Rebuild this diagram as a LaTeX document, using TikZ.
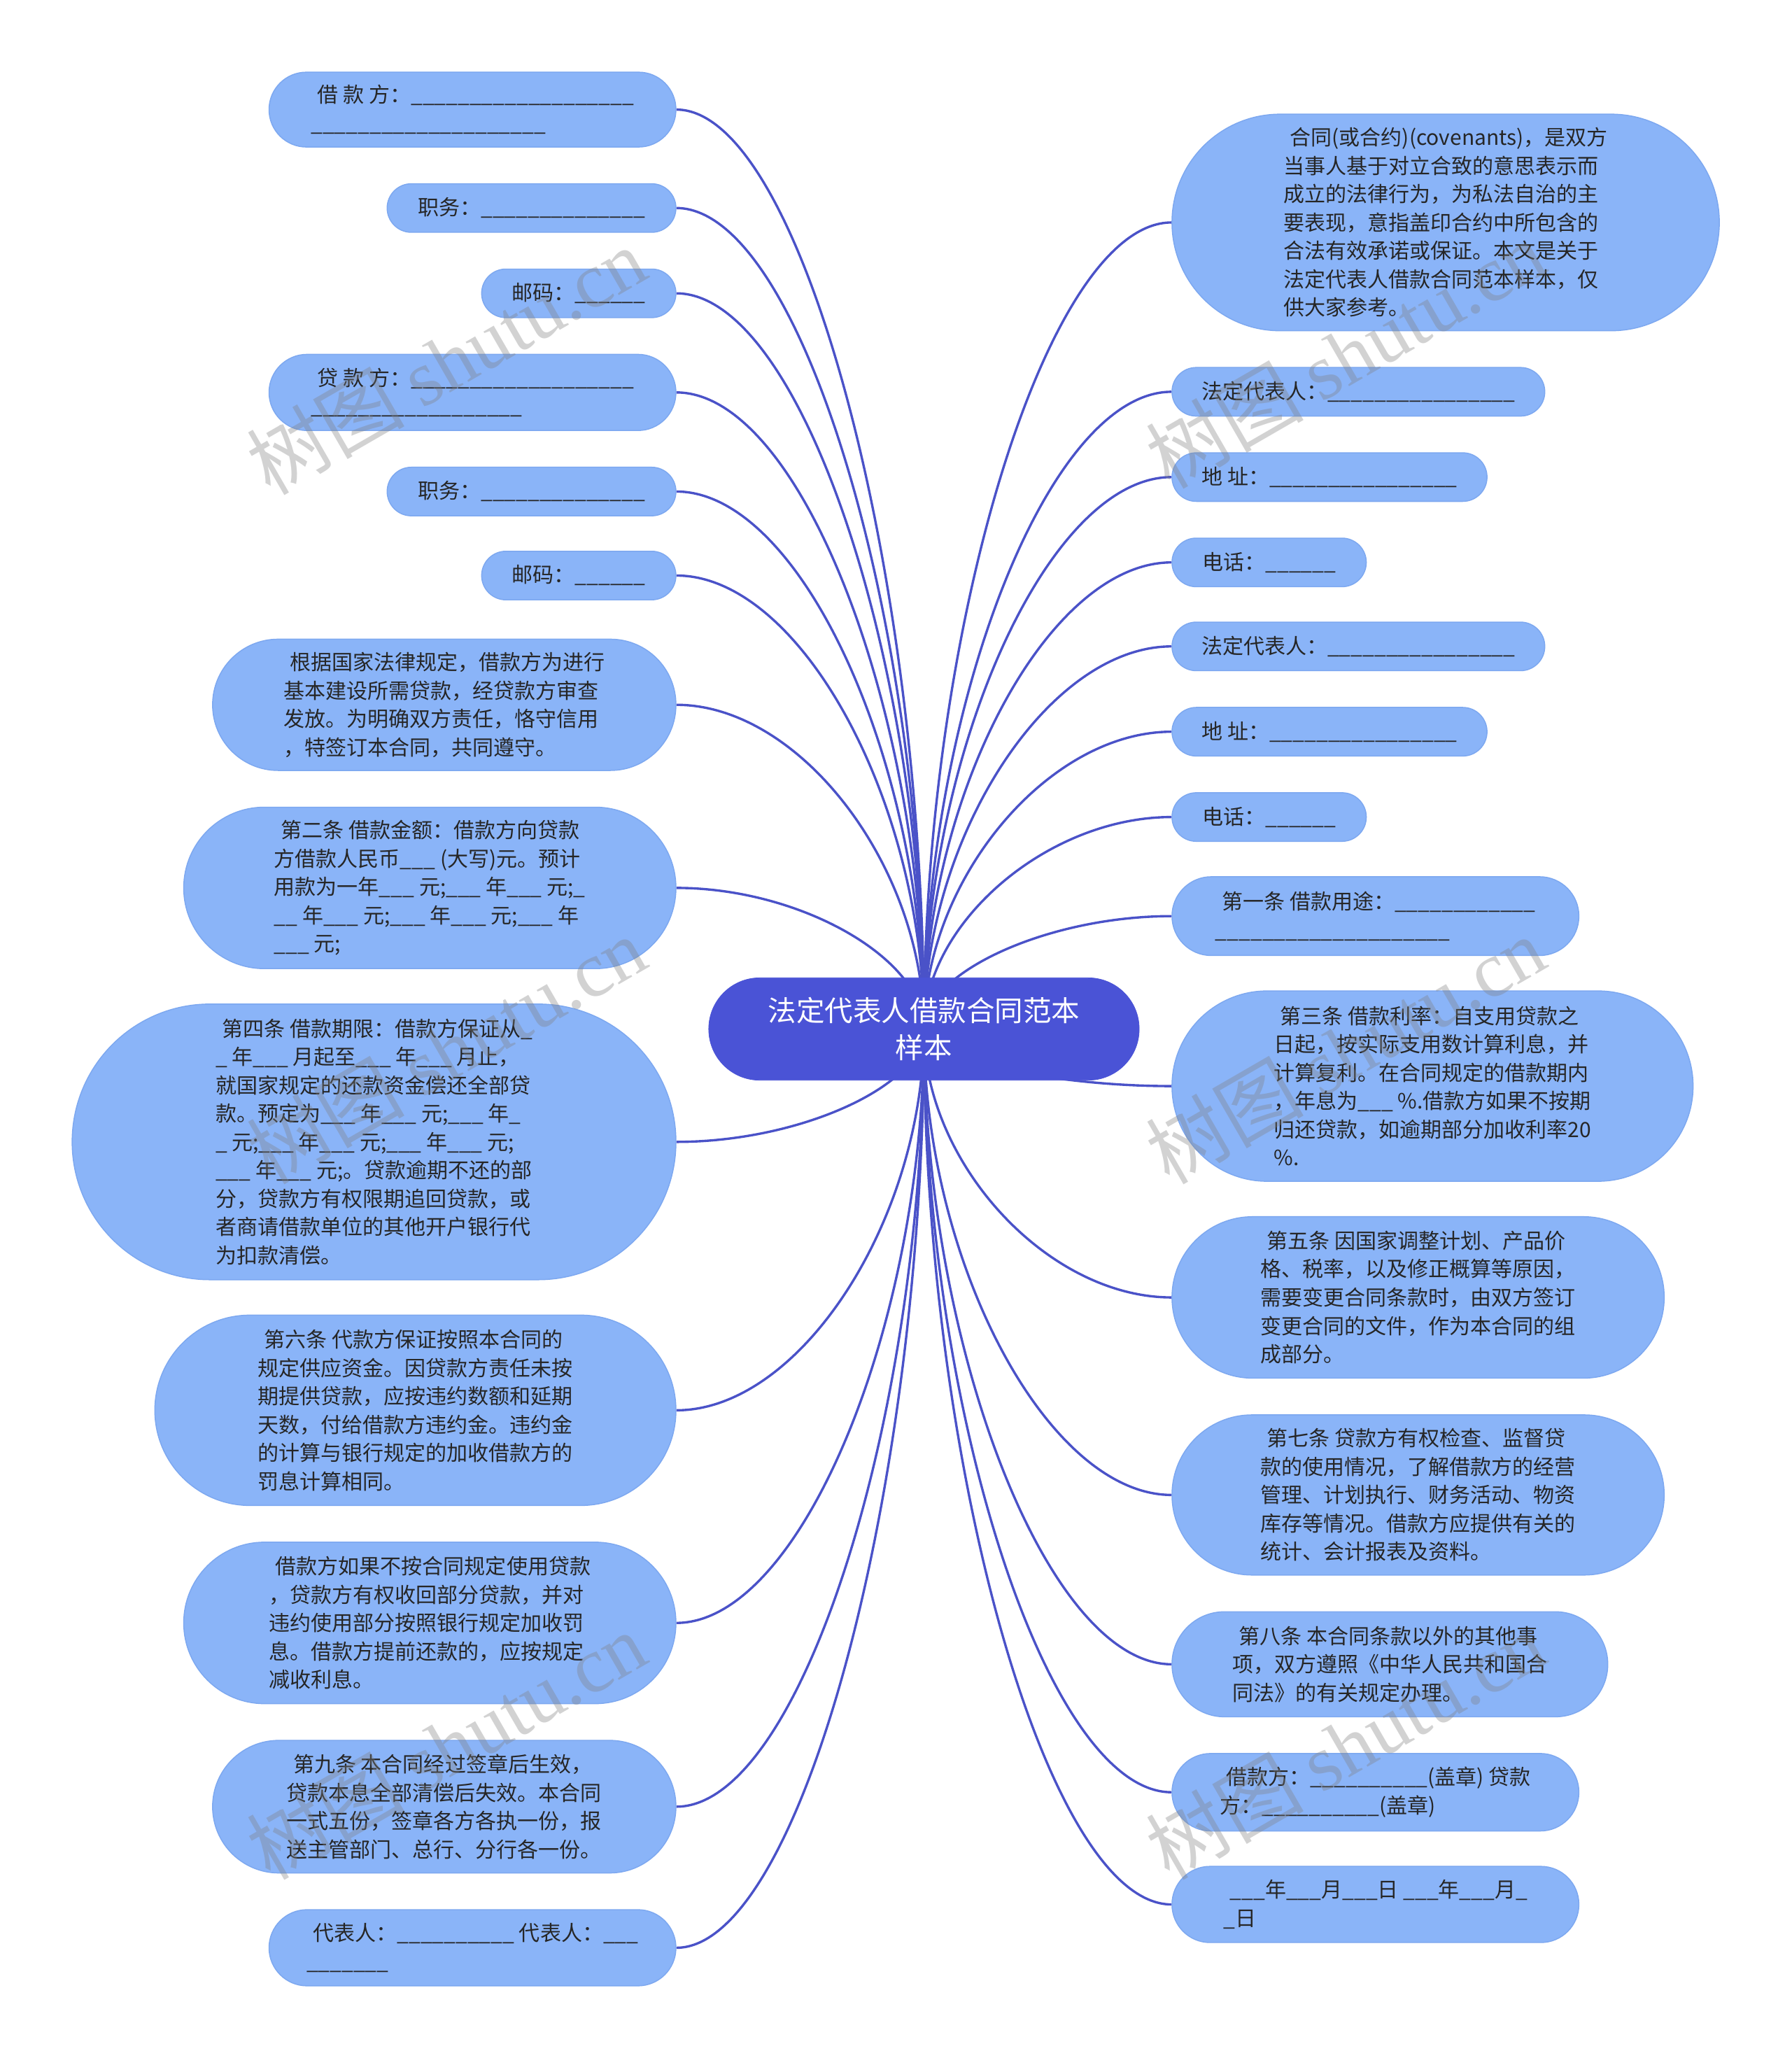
\documentclass[tikz,border=0pt]{standalone}
\usepackage{fontspec}
\setmainfont{Noto Sans CJK SC}
\newfontfamily\wmserif{Liberation Serif}
\usetikzlibrary{calc}
\definecolor{leafc}{HTML}{8AB4F8}
\definecolor{leafline}{HTML}{7DA8F0}
\definecolor{rootc}{HTML}{4A53D6}
\definecolor{edgec}{HTML}{4A52C8}
\definecolor{txtc}{HTML}{262626}
\newcount\blcnt
\newcommand\bl[1]{\blcnt=#1\relax\loop\ifnum\blcnt>0 \_\advance\blcnt by -1\relax\repeat}
\pgfdeclarelayer{bg}
\pgfsetlayers{bg,main}
\tikzset{
  leaf/.style={rectangle, fill=leafc, draw=leafline, line width=0.8pt, inner sep=0pt,
    align=left, text=txtc, font=\fontsize{16pt}{21.6pt}\selectfont},
  rootnode/.style={rectangle, fill=rootc, draw=rootc, inner sep=0pt, align=center,
    text=white, font=\fontsize{21.6pt}{28pt}\selectfont},
  edge/.style={draw=edgec, line width=1.8pt},
  wm/.style={text=black!50, opacity=0.35, inner sep=0pt,
    font=\fontsize{60pt}{60pt}\selectfont}
}
\newcommand\leafbox[6]{%
  \pgfmathsetmacro\lbw{#4-#2}\pgfmathsetmacro\lbh{#5-#3}%
  \pgfmathsetmacro\lbr{\lbh/2-0.05}%
  \node[leaf, minimum width=\lbw pt, minimum height=\lbh pt, rounded corners=\lbr pt]
    (#1) at ({(#2+#4)/2},{(#3+#5)/2}) {#6};}
\begin{document}
\begin{tikzpicture}[x=1pt,y=-1pt]
\useasboundingbox (0,0) rectangle (1365,1568);

\node[rootnode, minimum width=328pt, minimum height=78pt, rounded corners=38.9pt]
  (root) at (704,784) {法定代表人借款合同范本\\样本};

% left
\leafbox{L1}{205}{55}{515}{112}{\hspace*{5pt}借 款 方：\bl{19}\\\bl{20}}
\leafbox{L2}{295}{140}{515}{177}{职务：\bl{14}}
\leafbox{L3}{367}{205}{515}{242}{邮码：\bl{6}}
\leafbox{L4}{205}{270}{515}{328}{\hspace*{5pt}贷 款 方：\bl{19}\\\bl{18}}
\leafbox{L5}{295}{356}{515}{393}{职务：\bl{14}}
\leafbox{L6}{367}{420}{515}{457}{邮码：\bl{6}}
\leafbox{L7}{162}{487}{515}{587}{\hspace*{5pt}根据国家法律规定，借款方为进行\\基本建设所需贷款，经贷款方审查\\发放。为明确双方责任，恪守信用\\，特签订本合同，共同遵守。}
\leafbox{L8}{140}{615}{515}{738}{\hspace*{5pt}第二条 借款金额：借款方向贷款\\方借款人民币\_\_\_ (大写)元。预计\\用款为一年\_\_\_ 元;\_\_\_ 年\_\_\_ 元;\_\\\_\_ 年\_\_\_ 元;\_\_\_ 年\_\_\_ 元;\_\_\_ 年\\\_\_\_ 元;}
\leafbox{L9}{55}{765}{515}{975}{\hspace*{5pt}第四条 借款期限：借款方保证从\_\\\_ 年\_\_\_ 月起至\_\_\_ 年\_\_\_ 月止，\\就国家规定的还款资金偿还全部贷\\款。预定为\_\_\_ 年\_\_\_ 元;\_\_\_ 年\_\\\_ 元;\_\_\_ 年\_\_\_ 元;\_\_\_ 年\_\_\_ 元;\\\_\_\_ 年\_\_\_ 元;。贷款逾期不还的部\\分，贷款方有权限期追回贷款，或\\者商请借款单位的其他开户银行代\\为扣款清偿。}
\leafbox{L10}{118}{1002}{515}{1147}{\hspace*{5pt}第六条 代款方保证按照本合同的\\规定供应资金。因贷款方责任未按\\期提供贷款，应按违约数额和延期\\天数，付给借款方违约金。违约金\\的计算与银行规定的加收借款方的\\罚息计算相同。}
\leafbox{L11}{140}{1175}{515}{1298}{\hspace*{5pt}借款方如果不按合同规定使用贷款\\，贷款方有权收回部分贷款，并对\\违约使用部分按照银行规定加收罚\\息。借款方提前还款的，应按规定\\减收利息。}
\leafbox{L12}{162}{1326}{515}{1427}{\hspace*{5pt}第九条 本合同经过签章后生效，\\贷款本息全部清偿后失效。本合同\\一式五份，签章各方各执一份，报\\送主管部门、总行、分行各一份。}
\leafbox{L13}{205}{1455}{515}{1513}{\hspace*{5pt}代表人：\bl{10} 代表人：\bl{3}\\\bl{7}}

% right
\leafbox{R1}{893}{87}{1310}{252}{\hspace*{5pt}合同(或合约)(covenants)，是双方\\当事人基于对立合致的意思表示而\\成立的法律行为，为私法自治的主\\要表现，意指盖印合约中所包含的\\合法有效承诺或保证。本文是关于\\法定代表人借款合同范本样本，仅\\供大家参考。}
\leafbox{R2}{893}{280}{1177}{317}{法定代表人：\bl{16}}
\leafbox{R3}{893}{345}{1133}{382}{地 址：\bl{16}}
\leafbox{R4}{893}{410}{1041}{447}{电话：\bl{6}}
\leafbox{R5}{893}{474}{1177}{511}{法定代表人：\bl{16}}
\leafbox{R6}{893}{539}{1133}{576}{地 址：\bl{16}}
\leafbox{R7}{893}{604}{1041}{641}{电话：\bl{6}}
\leafbox{R8}{893}{668}{1203}{728}{\hspace*{5pt}第一条 借款用途：\bl{12}\\\bl{20}}
\leafbox{R9}{893}{755}{1290}{900}{\hspace*{5pt}第三条 借款利率：自支用贷款之\\日起，按实际支用数计算利息，并\\计算复利。在合同规定的借款期内\\，年息为\_\_\_ \%.借款方如果不按期\\归还贷款，如逾期部分加收利率20\\\%.}
\leafbox{R10}{893}{927}{1268}{1050}{\hspace*{5pt}第五条 因国家调整计划、产品价\\格、税率，以及修正概算等原因，\\需要变更合同条款时，由双方签订\\变更合同的文件，作为本合同的组\\成部分。}
\leafbox{R11}{893}{1078}{1268}{1200}{\hspace*{5pt}第七条 贷款方有权检查、监督贷\\款的使用情况，了解借款方的经营\\管理、计划执行、财务活动、物资\\库存等情况。借款方应提供有关的\\统计、会计报表及资料。}
\leafbox{R12}{893}{1228}{1225}{1308}{\hspace*{5pt}第八条 本合同条款以外的其他事\\项，双方遵照《中华人民共和国合\\同法》的有关规定办理。}
\leafbox{R13}{893}{1336}{1203}{1395}{\hspace*{5pt}借款方：\bl{10}(盖章) 贷款\\方：\bl{10}(盖章)}
\leafbox{R14}{893}{1422}{1203}{1480}{\hspace*{5pt}\_\_\_年\_\_\_月\_\_\_日 \_\_\_年\_\_\_月\_\\\_日}

\begin{pgfonlayer}{bg}
\fill[white] (0,0) rectangle (1365,1568);
\foreach \n in {L1,L2,L3,L4,L5,L6,L7,L8,L9,L10,L11,L12,L13}
  \draw[edge] (root.center) .. controls ($(root.center)!0.5!(root.center |- \n.east)$)
    and ($(\n.east)!0.5!(root.center |- \n.east)$) .. (\n.east);
\foreach \n in {R1,R2,R3,R4,R5,R6,R7,R8,R9,R10,R11,R12,R13,R14}
  \draw[edge] (root.center) .. controls ($(root.center)!0.5!(root.center |- \n.west)$)
    and ($(\n.west)!0.5!(root.center |- \n.west)$) .. (\n.west);
\end{pgfonlayer}

% watermarks
\node[wm, rotate=30] (wm1) at (340,275) {树图 {\wmserif shutu.cn}};
\node[wm, rotate=30] (wm2) at (1025,270) {树图 {\wmserif shutu.cn}};
\node[wm, rotate=30] (wm3) at (340,800) {树图 {\wmserif shutu.cn}};
\node[wm, rotate=30] (wm4) at (1025,800) {树图 {\wmserif shutu.cn}};
\node[wm, rotate=30] (wm5) at (340,1330) {树图 {\wmserif shutu.cn}};
\node[wm, rotate=30] (wm6) at (1025,1330) {树图 {\wmserif shutu.cn}};
\end{tikzpicture}
\end{document}
